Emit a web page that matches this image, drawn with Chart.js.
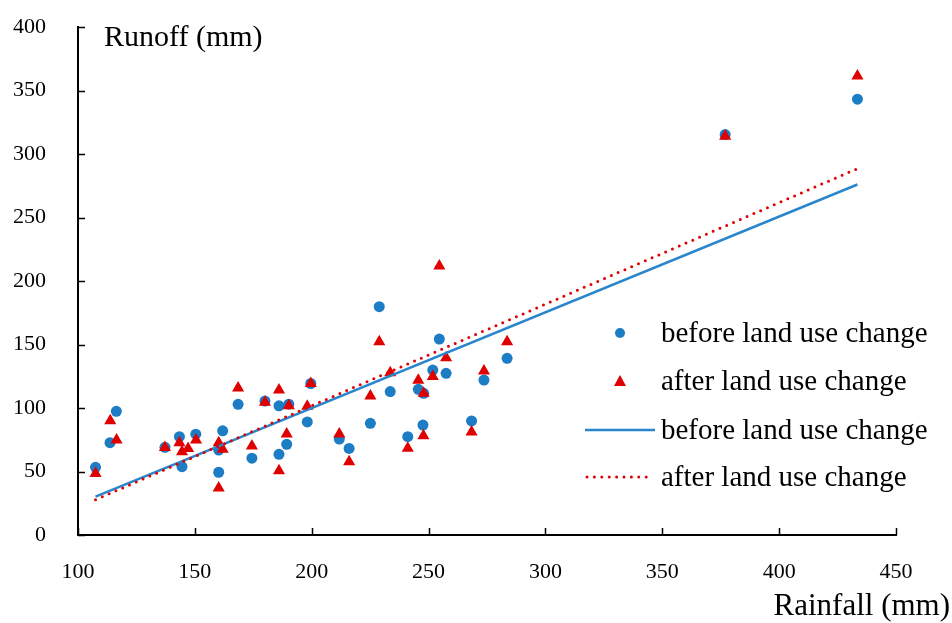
<!DOCTYPE html>
<html>
<head>
<meta charset="utf-8">
<script src="https://cdn.jsdelivr.net/npm/chart.js@4/dist/chart.umd.min.js"></script>
<style>
  html, body { margin: 0; padding: 0; background: #fff; }
  #wrap { width: 952px; height: 623px; position: relative; }
</style>
</head>
<body>
<div id="wrap"><canvas id="main-chart"></canvas></div>
<script>
// rainfall (mm) / runoff (mm)
const beforeRain   = [107.5, 113.7, 116.4, 137.2, 143.4, 144.5, 150.4, 160.2, 160.2, 161.9, 168.5, 174.4,
                      180.0, 186.0, 186.0, 190.2, 189.3, 198.1, 199.6, 211.8, 216.0, 225.1, 228.9, 233.6,
                      241.1, 245.6, 247.9, 247.6, 251.8, 254.6, 257.5, 268.4, 273.7, 283.6, 376.9, 433.5];
const beforeRunoff = [53.3, 72.7, 97.4, 69.0, 77.4, 53.8, 79.4, 49.4, 66.9, 82.0, 102.9, 60.5,
                      105.5, 101.7, 63.5, 103.0, 71.4, 89.0, 119.3, 75.6, 68.2, 87.9, 179.8, 112.9,
                      77.4, 114.7, 111.6, 86.6, 129.9, 154.3, 127.3, 89.8, 122.0, 139.1, 315.3, 343.2];

const afterRain    = [107.5, 113.8, 116.5, 137.2, 143.4, 144.5, 147.1, 150.5, 160.2, 160.2, 161.9, 168.5,
                      174.4, 180.0, 186.0, 186.0, 190.2, 189.3, 198.1, 199.6, 211.8, 216.0, 225.1, 228.9,
                      233.6, 241.1, 245.6, 247.9, 247.8, 251.8, 254.6, 257.5, 268.4, 273.7, 283.6, 376.9, 433.5];
const afterRunoff  = [48.4, 90.0, 74.8, 68.8, 72.7, 65.6, 68.2, 74.8, 72.7, 37.0, 67.5, 115.8,
                      70.0, 104.6, 114.2, 50.6, 101.8, 79.5, 101.3, 119.3, 79.5, 57.7, 109.5, 152.2,
                      127.8, 68.3, 121.8, 111.6, 78.2, 124.9, 211.8, 139.6, 81.1, 129.1, 152.2, 314.0, 361.5];

// linear trend lines, end points
const trendRain         = [107.5, 433.5];
const trendBeforeRunoff = [30.2, 276.0];
const trendAfterRunoff  = [27.8, 288.5];

const xTicks = [100, 150, 200, 250, 300, 350, 400, 450];
const yTicks = [0, 50, 100, 150, 200, 250, 300, 350, 400];

const labels = {
  xTitle: 'Rainfall (mm)',
  yTitle: 'Runoff (mm)',
  before: 'before land use change',
  after:  'after land use change',
};

const BLUE  = '#1c7cc4';
const BLUE_LINE = '#2a86cc';
const RED   = '#e00000';
const FONT  = '"Liberation Serif", "Times New Roman", serif';

const toPts = (xs, ys) => xs.map((x, i) => ({ x, y: ys[i] }));

const decorations = {
  id: 'decorations',
  afterDraw(chart) {
    const { ctx, chartArea, scales } = chart;
    const xs = scales.x, ys = scales.y;
    ctx.save();

    // inward tick marks
    ctx.strokeStyle = '#000';
    ctx.lineWidth = 1.5;
    ctx.beginPath();
    yTicks.forEach(v => {
      const py = Math.round(ys.getPixelForValue(v)) + 0.5;
      ctx.moveTo(chartArea.left, py);
      ctx.lineTo(chartArea.left + 7, py);
    });
    xTicks.forEach(v => {
      const px = Math.round(xs.getPixelForValue(v)) + 0.5;
      ctx.moveTo(px, chartArea.bottom);
      ctx.lineTo(px, chartArea.bottom - 7);
    });
    ctx.stroke();

    // axis titles
    ctx.fillStyle = '#000';
    ctx.textBaseline = 'middle';
    ctx.textAlign = 'left';
    ctx.font = '30px ' + FONT;
    ctx.fillText(labels.yTitle, 104, 38);
    ctx.textAlign = 'right';
    ctx.font = '31px ' + FONT;
    ctx.fillText(labels.xTitle, 950, 607);

    // legend
    const tx = 661;
    const rows = [334, 382, 431, 478];
    ctx.font = '29px ' + FONT;
    ctx.textAlign = 'left';

    ctx.fillStyle = BLUE;
    ctx.beginPath();
    ctx.arc(620, rows[0] - 1, 5, 0, Math.PI * 2);
    ctx.fill();

    ctx.fillStyle = RED;
    ctx.beginPath();
    ctx.moveTo(620, rows[1] - 7);
    ctx.lineTo(626, rows[1] + 4);
    ctx.lineTo(614, rows[1] + 4);
    ctx.closePath();
    ctx.fill();

    ctx.strokeStyle = BLUE_LINE;
    ctx.lineWidth = 2.5;
    ctx.beginPath();
    ctx.moveTo(585, rows[2] - 1);
    ctx.lineTo(655, rows[2] - 1);
    ctx.stroke();

    ctx.strokeStyle = RED;
    ctx.lineWidth = 3;
    ctx.lineCap = 'round';
    ctx.setLineDash([0, 7.4]);
    ctx.beginPath();
    ctx.moveTo(587, rows[3] - 1);
    ctx.lineTo(653, rows[3] - 1);
    ctx.stroke();
    ctx.setLineDash([]);

    ctx.fillStyle = '#000';
    ctx.fillText(labels.before, tx, rows[0]);
    ctx.fillText(labels.after,  tx, rows[1]);
    ctx.fillText(labels.before, tx, rows[2]);
    ctx.fillText(labels.after,  tx, rows[3]);

    ctx.restore();
  }
};

const ctx = document.getElementById('main-chart').getContext('2d');

new Chart(ctx, {
  type: 'scatter',
  data: {
    datasets: [
      {
        label: labels.after + ' trend',
        type: 'line',
        data: toPts(trendRain, trendAfterRunoff),
        borderColor: RED,
        borderWidth: 3,
        borderDash: [0, 7.4],
        borderCapStyle: 'round',
        pointRadius: 0,
        fill: false,
        order: 0,
      },
      {
        label: labels.before + ' trend',
        type: 'line',
        data: toPts(trendRain, trendBeforeRunoff),
        borderColor: BLUE_LINE,
        borderWidth: 2.5,
        pointRadius: 0,
        fill: false,
        order: 1,
      },
      {
        label: labels.after,
        data: toPts(afterRain, afterRunoff),
        pointStyle: 'triangle',
        pointRadius: 7,
        backgroundColor: RED,
        borderColor: RED,
        borderWidth: 0,
        order: 2,
      },
      {
        label: labels.before,
        data: toPts(beforeRain, beforeRunoff),
        pointStyle: 'circle',
        pointRadius: 5.5,
        backgroundColor: BLUE,
        borderColor: BLUE,
        borderWidth: 0,
        order: 3,
      },
    ]
  },
  options: {
    responsive: true,
    maintainAspectRatio: false,
    animation: false,
    events: [],
    layout: { padding: { left: 0, right: 56, top: 27, bottom: 0 } },
    plugins: {
      legend:  { display: false },
      tooltip: { enabled: false },
    },
    scales: {
      x: {
        type: 'linear',
        min: 100,
        max: 450,
        afterBuildTicks: s => { s.ticks = xTicks.map(value => ({ value })); },
        afterFit: s => { s.height = 88; },
        ticks: {
          color: '#000',
          font: { family: FONT, size: 22 },
          padding: 24,
          maxRotation: 0,
        },
        grid:   { display: false, drawTicks: false },
        border: { display: true, color: '#000', width: 2 },
      },
      y: {
        type: 'linear',
        min: 0,
        max: 400,
        afterBuildTicks: s => { s.ticks = yTicks.map(value => ({ value })); },
        afterFit: s => { s.width = 78; s.paddingTop = 0; s.paddingBottom = 0; },
        ticks: {
          color: '#000',
          font: { family: FONT, size: 22 },
          padding: 32,
        },
        grid:   { display: false, drawTicks: false },
        border: { display: true, color: '#000', width: 2 },
      },
    },
  },
  plugins: [decorations],
});
</script>
</body>
</html>
